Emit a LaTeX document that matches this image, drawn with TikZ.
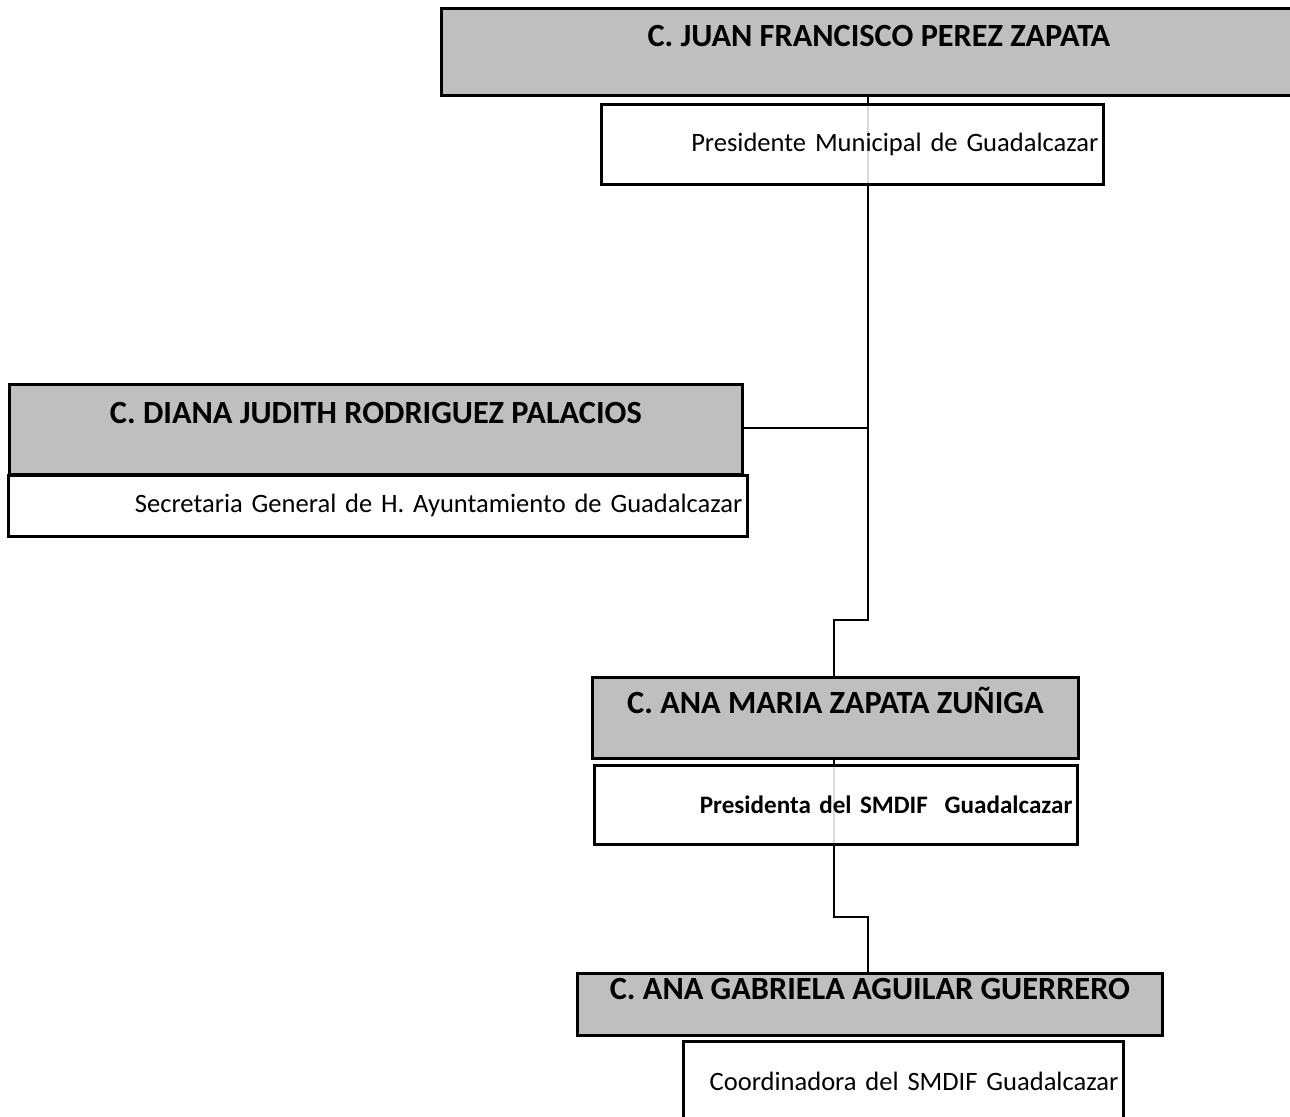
\documentclass[tikz,border=0pt]{standalone}
\usepackage{fontspec}
\setmainfont{Carlito}
\definecolor{cajagris}{RGB}{191,191,191}
\tikzset{
  titulo/.style={draw, line width=1.6pt, fill=cajagris, anchor=north west,
    inner ysep=0pt, font=\bfseries\fontsize{18.4}{22}\selectfont},
  cargo/.style={draw, line width=1.6pt, fill=white, fill opacity=0.85, text opacity=1,
    anchor=north west, inner xsep=0.1cm, align=right,
    font=\fontsize{15.1}{18}\selectfont},
  enlace/.style={line width=1.6pt}
}
\begin{document}
	\begin{tikzpicture}
		\useasboundingbox (0,0) rectangle (25.8,-22.34);
		\clip (0,0) rectangle (25.8,-22.34);
		% conectores
		\coordinate (codo1) at (16.68,-12.4);
		\coordinate (codo2) at (17.36,-18.34);
		\coordinate (ramal) at (17.36,-8.56);
		\draw [enlace] (17.36,-1.88) |- (codo1) -- (16.68,-13.52);
		\draw [enlace] (14.82,-8.56) -- (ramal);
		\draw [enlace] (16.68,-15.14) |- (codo2) -- (17.36,-19.44);
		% presidente
		\node [titulo, minimum width=17.5cm, text height=0.76cm, text depth=0.98cm]
			(juan) at (8.8,-0.14) {C. JUAN FRANCISCO PEREZ ZAPATA};
		\node [cargo, text width=9.84cm, minimum height=1.6cm]
			(presidente) at (12.0,-2.06) {Presidente Municipal de Guadalcazar};
		% secretaria
		\node [titulo, minimum width=14.66cm, text height=0.78cm, text depth=1.02cm]
			(diana) at (0.16,-7.66) {C. DIANA JUDITH RODRIGUEZ PALACIOS};
		\node [cargo, text width=14.58cm, minimum height=1.22cm]
			(secretaria) at (0.14,-9.48) {Secretaria General de H. Ayuntamiento de Guadalcazar};
		% presidenta SMDIF
		\node [titulo, minimum width=9.72cm, text height=0.72cm, text depth=0.90cm]
			(anamaria) at (11.82,-13.52) {C. ANA MARIA ZAPATA ZUÑIGA};
		\node [cargo, text width=9.46cm, minimum height=1.58cm, font=\bfseries\fontsize{14.3}{17}\selectfont]
			(presidenta) at (11.86,-15.28) {Presidenta del SMDIF\ \ Guadalcazar};
		% coordinadora
		\node [titulo, minimum width=11.7cm, text height=0.52cm, text depth=0.72cm]
			(gabriela) at (11.52,-19.44) {C. ANA GABRIELA AGUILAR GUERRERO};
		\node [cargo, text width=8.6cm, minimum height=1.6cm]
			(coordinadora) at (13.64,-20.8) {Coordinadora del SMDIF Guadalcazar};
	\end{tikzpicture}
\end{document}
